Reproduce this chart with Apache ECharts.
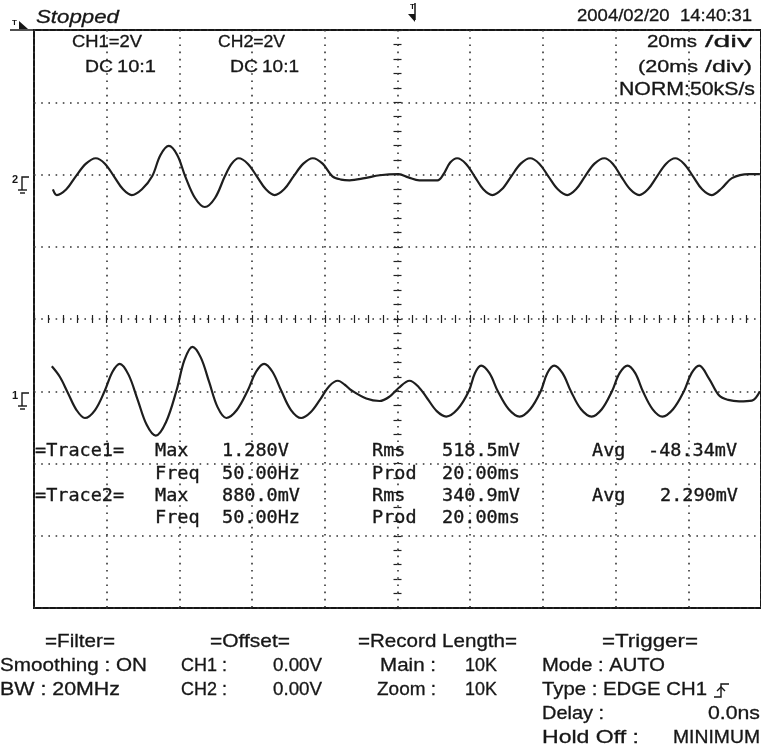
<!DOCTYPE html>
<html><head><meta charset="utf-8">
<script src="https://cdn.jsdelivr.net/npm/echarts@6/dist/echarts.min.js"></script>
<style>html,body{margin:0;padding:0;background:#fff}#c{width:761px;height:747px}</style>
</head><body><div id="c"></div>
<script>
// ---- data (time in ms, voltage in V) ----
const ch1Time  = [-95.1,-92.9,-90.7,-88.3,-86.0,-83.2,-80.5,-78.4,-76.4,-74.0,-71.5,-69.0,-66.5,-63.7,-60.8,-58.6,-56.4,-54.1,-51.8,-49.5,-47.1,-44.2,-41.2,-38.9,-36.7,-34.4,-32.0,-29.3,-26.5,-23.9,-21.3,-18.8,-16.4,-14.5,-12.6,-8.6,-4.9,-2.2,0.3,3.3,5.8,8.2,10.8,13.4,16.5,19.6,21.3,23.0,25.3,27.6,30.6,33.6,36.5,39.4,41.2,43.1,45.4,47.7,50.5,53.4,56.2,59.0,61.1,63.3,65.4,67.5,70.2,72.9,75.8,78.8,80.9,83.0,85.7,88.5,91.0,94.0,97.5,99.7];
const ch1Volts = [0.69,0.40,-0.04,-0.52,-0.74,-0.52,0.02,0.54,0.76,0.46,-0.23,-0.93,-1.23,-0.86,0.02,0.87,1.23,0.93,0.25,-0.44,-0.74,-0.52,0.02,0.54,0.76,0.54,0.02,-0.52,-0.74,-0.58,-0.23,0.14,0.29,0.18,0.02,-0.20,-0.27,-0.15,0.09,0.29,0.12,-0.20,-0.55,-0.70,-0.50,0.00,0.50,0.71,0.50,0.00,-0.50,-0.70,-0.50,0.00,0.50,0.71,0.50,0.00,-0.50,-0.70,-0.50,0.00,0.50,0.71,0.50,0.00,-0.50,-0.70,-0.50,0.00,0.50,0.71,0.35,-0.12,-0.24,-0.28,-0.26,0.00];
const ch2Time  = [-94.8,-93.7,-91.1,-88.5,-85.7,-83.0,-80.5,-78.0,-75.5,-73.1,-70.3,-67.5,-65.2,-62.9,-60.6,-58.4,-55.7,-53.0,-50.2,-47.5,-45.6,-43.7,-41.2,-38.7,-36.2,-33.8,-31.2,-28.6,-25.9,-23.3,-20.6,-17.9,-15.5,-13.2,-9.0,-4.9,0.3,3.0,6.0,11.0,12.6,14.5,16.4,18.8,21.2,23.6,26.1,28.7,31.3,33.9,36.5,39.0,41.5,44.1,46.7,49.1,51.6,54.2,56.9,59.2,61.5,64.0,66.5,68.9,71.4,73.9,76.4,78.8,81.3,83.8,86.4,89.2,92.0,96.7,99.7];
const ch2Volts = [-0.41,-0.57,-0.41,-0.05,0.30,0.45,0.30,-0.05,-0.41,-0.57,-0.41,-0.05,0.54,0.79,0.54,-0.05,-0.65,-0.90,-0.65,-0.05,0.30,0.45,0.30,-0.05,-0.41,-0.57,-0.41,-0.05,0.30,0.45,0.30,-0.05,-0.14,-0.16,-0.10,-0.02,0.01,-0.08,-0.16,-0.16,0.00,0.33,0.45,0.30,-0.05,-0.41,-0.57,-0.41,-0.05,0.30,0.45,0.30,-0.05,-0.41,-0.57,-0.41,-0.05,0.30,0.45,0.30,-0.05,-0.41,-0.57,-0.41,-0.05,0.30,0.45,0.30,-0.05,-0.41,-0.57,-0.38,-0.10,0.01,0.01];
// axis ranges: 20 ms/div x 10 div, 2 V/div x 8 div
const timeRange = [-100, 100];
const timePerDiv = 20;
const divRange = [-4, 4];
const ch1Range = [-6, 10];   // CH1 ground one division below centre
const ch2Range = [-12, 4];   // CH2 ground two divisions above centre

const header = { status: 'Stopped', date: '2004/02/20  14:40:31', ch1: 'CH1=2V', ch2: 'CH2=2V', coupling: 'DC', probe: '10:1', tdiv: '20ms', tdivZoom: '(20ms', sample: 'NORM:50kS/s' };
const trace1 = { max: '1.280V', freq: '50.00Hz', rms: '518.5mV', prd: '20.00ms', avg: '-48.34mV' };
const trace2 = { max: '880.0mV', freq: '50.00Hz', rms: '340.9mV', prd: '20.00ms', avg: '2.290mV' };

const zip = (a, b) => a.map((v, i) => [v, b[i]]);

const INK = '#161616';
const ctx = document.createElement('canvas').getContext('2d');
function T(str, x, y, size, opt) {
  opt = opt || {};
  const family = opt.family || 'Liberation Sans';
  const font = (opt.italic ? 'italic ' : '') + (opt.weight || 'normal') + ' ' + size + 'px "' + family + '"';
  let sx = 1;
  if (opt.w) { ctx.font = font; sx = opt.w / ctx.measureText(str).width; }
  const al = opt.align || 'left';
  return { type: 'text', x: x, y: y, scaleX: sx, silent: true, z: 10,
    style: { text: str, x: 0, y: 0, font: font, fill: INK, stroke: INK, lineWidth: opt.lw == null ? 0.3 : opt.lw,
      align: al, textAlign: al, verticalAlign: 'middle', textVerticalAlign: 'middle' } };
}
const M = (str, x, y) => T(str, x, y, 18.5, { family: 'DejaVu Sans Mono', lw: 0.35 });
function L(points, w) {
  return { type: 'polyline', silent: true, z: 10, shape: { points: points }, style: { stroke: INK, lineWidth: w || 1.4, fill: null } };
}

const graphics = [
  // top-left trigger-position marker
  T('T', 12, 23, 8, { weight: 'bold', lw: 0 }),
  { type: 'polygon', silent: true, shape: { points: [[19, 21], [19, 29], [28, 29]] }, style: { fill: INK } },
  L([[10, 30], [34, 30]], 1.5),
  T(header.status, 36, 18, 18.5, { italic: true, w: 83 }),
  // centre trigger marker
  T('T', 410, 7, 8, { weight: 'bold', lw: 0 }),
  L([[415, 3], [415, 20]], 1.5),
  { type: 'polygon', silent: true, shape: { points: [[408, 14], [415, 14], [415, 22]] }, style: { fill: INK } },
  T(header.date, 752, 16, 16.5, { align: 'right', w: 175 }),
  T(header.ch1, 72, 42, 16.5, { w: 70 }),
  T(header.coupling, 85, 67, 16.5, { w: 28 }),
  T(header.probe, 117, 67, 16.5, { w: 39 }),
  T(header.ch2, 218, 42, 16.5, { w: 67 }),
  T(header.coupling, 230, 67, 16.5, { w: 28 }),
  T(header.probe, 262, 67, 16.5, { w: 37 }),
  T(header.tdiv, 647, 42, 16.5, { w: 50 }),
  T('/div', 705, 42, 16.5, { w: 47 }),
  T(header.tdivZoom, 638, 67, 16.5, { w: 60 }),
  T('/div)', 705, 67, 16.5, { w: 47 }),
  T(header.sample, 619, 90, 17.5, { w: 136 }),
  // ground markers
  T('2', 12, 180, 11, { weight: 'bold', lw: 0 }),
  L([[22, 190], [22, 177], [29, 177]]), L([[18, 190], [27, 190]]), L([[20, 193], [25, 193]]),
  T('1', 12, 396, 11, { weight: 'bold', lw: 0 }),
  L([[22, 406], [22, 393], [29, 393]]), L([[18, 406], [27, 406]]), L([[20, 409], [25, 409]]),
  // measurements
  M('=Trace1=', 35, 451), M('Max', 155, 451), M(trace1.max, 222, 451), M('Rms', 372, 451), M(trace1.rms, 442, 451), M('Avg', 592, 451), M(trace1.avg, 648, 451),
  M('Freq', 155, 474), M(trace1.freq, 222, 474), M('Prod', 372, 474), M(trace1.prd, 442, 474),
  M('=Trace2=', 35, 496), M('Max', 155, 496), M(trace2.max, 222, 496), M('Rms', 372, 496), M(trace2.rms, 442, 496), M('Avg', 592, 496), M(trace2.avg, 660, 496),
  M('Freq', 155, 518), M(trace2.freq, 222, 518), M('Prod', 372, 518), M(trace2.prd, 442, 518),
  // settings panel
  T('=Filter=', 45, 642, 18.5, { w: 70 }),
  T('Smoothing : ON', 0, 666, 18.5, { w: 147 }),
  T('BW : 20MHz', 0, 690, 18.5, { w: 120 }),
  T('=Offset=', 210, 642, 18.5, { w: 80 }),
  T('CH1 :', 181, 666, 18.5, { w: 46 }), T('0.00V', 273, 666, 18.5, { w: 49 }),
  T('CH2 :', 181, 690, 18.5, { w: 46 }), T('0.00V', 273, 690, 18.5, { w: 49 }),
  T('=Record Length=', 358, 642, 18.5, { w: 159 }),
  T('Main :', 380, 666, 18.5, { w: 56 }), T('10K', 465, 666, 18.5, { w: 32 }),
  T('Zoom :', 377, 690, 18.5, { w: 59 }), T('10K', 465, 690, 18.5, { w: 32 }),
  T('=Trigger=', 602, 642, 18.5, { w: 96 }),
  T('Mode : AUTO', 542, 666, 18.5, { w: 123 }),
  T('Type : EDGE CH1', 542, 690, 18.5, { w: 165 }),
  L([[714, 697], [721, 697], [721, 684], [729, 684]]), L([[717, 691], [721, 687], [725, 691]]),
  T('Delay :', 542, 714, 18.5, { w: 62 }), T('0.0ns', 760, 714, 18.5, { align: 'right', w: 52 }),
  T('Hold Off :', 542, 738, 18.5, { w: 97 }), T('MINIMUM', 760, 738, 18.5, { align: 'right', w: 87 })
];

const dots = { color: '#333', width: 1.6, type: [1.6, 5.6] };
const tickStyle = { color: '#222', width: 1.2 };
const centreX = (pos) => ({
  type: 'value', min: timeRange[0], max: timeRange[1], interval: timePerDiv, position: pos,
  axisLine: { show: false, onZero: true, onZeroAxisIndex: 0 },
  axisTick: { show: true, length: 4, lineStyle: tickStyle },
  minorTick: { show: true, splitNumber: 5, length: 4, lineStyle: tickStyle },
  axisLabel: { show: false }, splitLine: { show: false }
});
const centreY = (pos) => ({
  type: 'value', min: divRange[0], max: divRange[1], interval: 1, position: pos,
  axisLine: { show: false, onZero: true, onZeroAxisIndex: 0 },
  axisTick: { show: true, length: 4, lineStyle: tickStyle },
  minorTick: { show: true, splitNumber: 5, length: 4, lineStyle: tickStyle },
  axisLabel: { show: false }, splitLine: { show: false }
});

const chart = echarts.init(document.getElementById('c'), null, { renderer: 'canvas' });
chart.setOption({
  animation: false,
  backgroundColor: '#ffffff',
  grid: { left: 34, top: 30, width: 728, height: 578, show: true, borderColor: INK, borderWidth: 2, backgroundColor: 'transparent' },
  xAxis: [
    { type: 'value', min: timeRange[0], max: timeRange[1], interval: timePerDiv,
      axisLine: { show: false, onZero: false }, axisTick: { show: false }, axisLabel: { show: false },
      splitLine: { show: true, lineStyle: dots } },
    centreX('bottom'),
    centreX('top')
  ],
  yAxis: [
    { type: 'value', min: divRange[0], max: divRange[1], interval: 1,
      axisLine: { show: false, onZero: false }, axisTick: { show: false }, axisLabel: { show: false },
      splitLine: { show: true, lineStyle: dots } },
    { type: 'value', min: ch1Range[0], max: ch1Range[1], show: false },
    { type: 'value', min: ch2Range[0], max: ch2Range[1], show: false },
    centreY('left'),
    centreY('right')
  ],
  series: [
    { name: 'CH1', type: 'line', xAxisIndex: 0, yAxisIndex: 1, data: zip(ch1Time, ch1Volts),
      showSymbol: false, smooth: 0.35, silent: true, lineStyle: { color: '#1e1e1e', width: 2.2 } },
    { name: 'CH2', type: 'line', xAxisIndex: 0, yAxisIndex: 2, data: zip(ch2Time, ch2Volts),
      showSymbol: false, smooth: 0.35, silent: true, lineStyle: { color: '#1e1e1e', width: 2.2 } }
  ],
  graphic: graphics
});
</script></body></html>
